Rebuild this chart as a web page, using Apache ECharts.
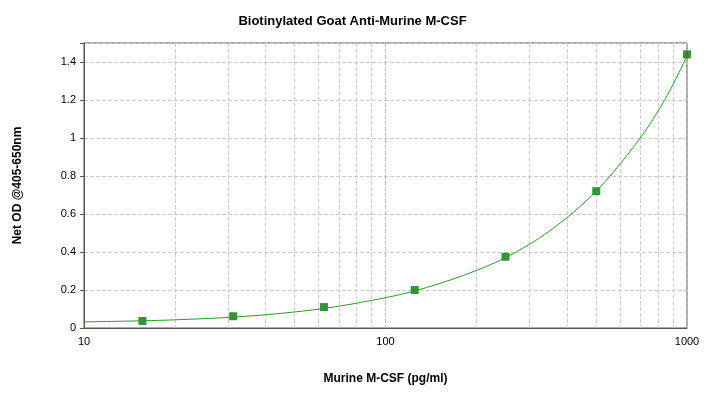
<!DOCTYPE html><html><head><meta charset="utf-8"><script src="https://cdn.jsdelivr.net/npm/echarts@6/dist/echarts.min.js"></script></head><body style="margin:0"><div id="c" style="width:705px;height:411px"></div><script>
const concentrations=[15.625,31.25,62.5,125,250,500,1000];
const odValues=[0.037,0.062,0.11,0.2,0.375,0.72,1.44];
const curveX=[10,15.625,20,31.25,45,62.5,90,125,180,250,350,500,700,850,1000];
const curveY=[0.032,0.038,0.043,0.057,0.077,0.103,0.145,0.195,0.275,0.37,0.51,0.72,1.0,1.21,1.43];
const c=echarts.init(document.getElementById('c'));
c.setOption({animation:false,
title:{text:'Biotinylated Goat Anti-Murine M-CSF',left:'center',top:10,textStyle:{fontFamily:'Arial',fontSize:13,fontWeight:'bold',color:'#000'}},
grid:{left:84,right:18,top:43,bottom:83,show:true,borderColor:'#555',borderWidth:1},
xAxis:{type:'log',min:10,max:1000,logBase:10,name:'Murine M-CSF (pg/ml)',nameLocation:'middle',nameGap:45,nameTextStyle:{fontFamily:'Arial',fontSize:12,fontWeight:'bold',color:'#000'},
axisLine:{lineStyle:{color:'#555'}},axisTick:{show:false},axisLabel:{color:'#000',fontFamily:'Arial',fontSize:11,formatter:v=>String(Math.round(v))},
splitLine:{show:true,lineStyle:{color:'#bbb',type:'dashed'}},minorTick:{show:false,splitNumber:9},minorSplitLine:{show:true,lineStyle:{color:'#ccc',type:'dashed'}}},
yAxis:{type:'value',min:0,max:1.5,interval:0.2,name:'Net OD @405-650nm',nameLocation:'middle',nameGap:60,nameTextStyle:{fontFamily:'Arial',fontSize:12,fontWeight:'bold',color:'#000'},
axisLine:{show:true,lineStyle:{color:'#555'}},axisTick:{show:true,length:4},axisLabel:{color:'#000',fontFamily:'Arial',fontSize:11,formatter:v=>v>1.45?'':String(Math.round(v*10)/10)},
splitLine:{show:true,lineStyle:{color:'#ccc',type:'dashed'}}},
series:[{type:'line',data:curveX.map((x,i)=>[x,curveY[i]]),smooth:0.3,showSymbol:false,lineStyle:{color:'#2a9a2a',width:1}},
{type:'scatter',data:concentrations.map((x,i)=>[x,odValues[i]]),symbol:'rect',symbolSize:8,itemStyle:{color:'#007a00'}}]});
</script></body></html>
